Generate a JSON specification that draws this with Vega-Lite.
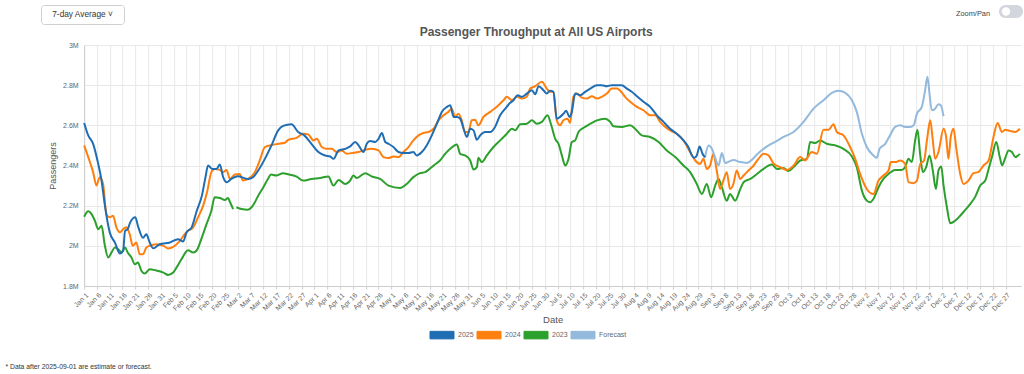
{
  "$schema": "https://vega.github.io/schema/vega-lite/v6.json",
  "padding": {"left": 5, "top": 4, "right": 4, "bottom": 0},
  "config": {
    "font": "Liberation Sans",
    "view": {"stroke": null}
  },
  "title": {"text": "* Data after 2025-09-01 are estimate or forecast.", "orient": "bottom", "anchor": "start", "frame": "bounds", "fontSize": 6.8, "fontWeight": "normal", "color": "#333", "offset": 23, "dx": -35},
  "spacing": 1,
  "center": true,
  "vconcat": [
    {
      "hconcat": [
        {"width": 83, "height": 19, "data": {"values": [{"label": "7-day Average      ˅"}]}, "mark": {"type": "text", "fontSize": 8.3, "color": "#333"}, "encoding": {"text": {"field": "label"}}, "view": {"stroke": "#cfcfcf", "cornerRadius": 3}},
        {"hconcat": [
          {"width": 34, "height": 18, "data": {"values": [{"label": "Zoom/Pan"}]}, "mark": {"type": "text", "fontSize": 7.4, "color": "#444"}, "encoding": {"text": {"field": "label"}}},
          {"width": 24, "height": 13, "data": {"values": [{"knob": "off"}]}, "mark": {"type": "point", "filled": true, "color": "white", "size": 70, "opacity": 1, "xOffset": -5}, "encoding": {}, "view": {"fill": "#d3d7dd", "stroke": null, "cornerRadius": 6.5}},
          {"width": 36, "height": 13, "data": {"values": []}, "mark": {"type": "point", "opacity": 0}, "encoding": {}}
        ], "spacing": 8}
      ],
      "spacing": 830
    },
    {
      "width": 937,
      "height": 241,
      "title": {"text": "Passenger Throughput at All US Airports", "fontSize": 12, "fontWeight": "bold", "color": "#555", "anchor": "middle", "frame": "bounds", "offset": 2},
      "data": {"values": [
        {"series":"2023","day":0,"passengers":2145000},{"series":"2023","day":1.6,"passengers":2172000},{"series":"2023","day":2.9,"passengers":2158000},{"series":"2023","day":4.2,"passengers":2125000},{"series":"2023","day":5.5,"passengers":2083000},{"series":"2023","day":6.8,"passengers":2100000},{"series":"2023","day":8,"passengers":2008000},{"series":"2023","day":9.4,"passengers":1942000},{"series":"2023","day":10.7,"passengers":1967000},{"series":"2023","day":12,"passengers":1992000},{"series":"2023","day":13.3,"passengers":1983000},{"series":"2023","day":14.6,"passengers":1967000},{"series":"2023","day":16,"passengers":1992000},{"series":"2023","day":17,"passengers":1967000},{"series":"2023","day":18.5,"passengers":1942000},{"series":"2023","day":19.8,"passengers":1908000},{"series":"2023","day":21,"passengers":1917000},{"series":"2023","day":22.4,"passengers":1875000},{"series":"2023","day":23.7,"passengers":1862000},{"series":"2023","day":25.6,"passengers":1883000},{"series":"2023","day":28,"passengers":1878000},{"series":"2023","day":31,"passengers":1867000},{"series":"2023","day":32.8,"passengers":1855000},{"series":"2023","day":34.8,"passengers":1867000},{"series":"2023","day":36.7,"passengers":1905000},{"series":"2023","day":38,"passengers":1933000},{"series":"2023","day":40.6,"passengers":1978000},{"series":"2023","day":42.6,"passengers":1967000},{"series":"2023","day":44,"passengers":1978000},{"series":"2023","day":46,"passengers":2042000},{"series":"2023","day":47.8,"passengers":2108000},{"series":"2023","day":49.7,"passengers":2175000},{"series":"2023","day":51,"passengers":2242000},{"series":"2023","day":53,"passengers":2238000},{"series":"2023","day":55,"passengers":2228000},{"series":"2023","day":56.2,"passengers":2238000},{"series":"2023","day":57,"passengers":2217000},{"series":"2023","day":58.2,"passengers":2183000},{"series":"2023","day":58.8,"passengers":null},{"series":"2023","day":59.5,"passengers":2192000},{"series":"2023","day":61.5,"passengers":2183000},{"series":"2023","day":64,"passengers":2180000},{"series":"2023","day":65.4,"passengers":2192000},{"series":"2023","day":66.7,"passengers":2217000},{"series":"2023","day":68,"passengers":2250000},{"series":"2023","day":70,"passengers":2292000},{"series":"2023","day":71.8,"passengers":2333000},{"series":"2023","day":73,"passengers":2355000},{"series":"2023","day":75,"passengers":2350000},{"series":"2023","day":77.7,"passengers":2362000},{"series":"2023","day":80,"passengers":2355000},{"series":"2023","day":83,"passengers":2345000},{"series":"2023","day":85.5,"passengers":2325000},{"series":"2023","day":88.8,"passengers":2333000},{"series":"2023","day":92.2,"passengers":2338000},{"series":"2023","day":95.4,"passengers":2345000},{"series":"2023","day":97.4,"passengers":2300000},{"series":"2023","day":99.4,"passengers":2328000},{"series":"2023","day":102,"passengers":2308000},{"series":"2023","day":103.9,"passengers":2325000},{"series":"2023","day":105.2,"passengers":2350000},{"series":"2023","day":106.5,"passengers":2338000},{"series":"2023","day":109.8,"passengers":2362000},{"series":"2023","day":112.4,"passengers":2345000},{"series":"2023","day":115.6,"passengers":2333000},{"series":"2023","day":118.9,"passengers":2300000},{"series":"2023","day":123.4,"passengers":2288000},{"series":"2023","day":126,"passengers":2308000},{"series":"2023","day":128.6,"passengers":2342000},{"series":"2023","day":131.2,"passengers":2362000},{"series":"2023","day":133.2,"passengers":2367000},{"series":"2023","day":134.5,"passengers":2378000},{"series":"2023","day":136.5,"passengers":2400000},{"series":"2023","day":139,"passengers":2425000},{"series":"2023","day":141,"passengers":2458000},{"series":"2023","day":143,"passengers":2483000},{"series":"2023","day":145.6,"passengers":2505000},{"series":"2023","day":146.9,"passengers":2458000},{"series":"2023","day":148.8,"passengers":2450000},{"series":"2023","day":150.8,"passengers":2425000},{"series":"2023","day":152.1,"passengers":2380000},{"series":"2023","day":153.4,"passengers":2392000},{"series":"2023","day":154,"passengers":2438000},{"series":"2023","day":155.3,"passengers":2417000},{"series":"2023","day":157.3,"passengers":2450000},{"series":"2023","day":159.9,"passengers":2492000},{"series":"2023","day":162.5,"passengers":2525000},{"series":"2023","day":165.1,"passengers":2558000},{"series":"2023","day":167.1,"passengers":2583000},{"series":"2023","day":168.4,"passengers":2575000},{"series":"2023","day":170.3,"passengers":2605000},{"series":"2023","day":172.9,"passengers":2608000},{"series":"2023","day":174.9,"passengers":2625000},{"series":"2023","day":176.8,"passengers":2608000},{"series":"2023","day":178.8,"passengers":2617000},{"series":"2023","day":181,"passengers":2650000},{"series":"2023","day":182.3,"passengers":2608000},{"series":"2023","day":184,"passengers":2533000},{"series":"2023","day":185.3,"passengers":2508000},{"series":"2023","day":186.6,"passengers":2450000},{"series":"2023","day":187.9,"passengers":2400000},{"series":"2023","day":189.2,"passengers":2433000},{"series":"2023","day":190.5,"passengers":2517000},{"series":"2023","day":191.8,"passengers":2525000},{"series":"2023","day":193.1,"passengers":2567000},{"series":"2023","day":195.1,"passengers":2588000},{"series":"2023","day":197.7,"passengers":2608000},{"series":"2023","day":200.3,"passengers":2625000},{"series":"2023","day":203.5,"passengers":2633000},{"series":"2023","day":205.5,"passengers":2617000},{"series":"2023","day":206.8,"passengers":2595000},{"series":"2023","day":210,"passengers":2592000},{"series":"2023","day":213.3,"passengers":2600000},{"series":"2023","day":215.2,"passengers":2583000},{"series":"2023","day":217.8,"passengers":2550000},{"series":"2023","day":221.1,"passengers":2542000},{"series":"2023","day":224.4,"passengers":2517000},{"series":"2023","day":227.6,"passengers":2475000},{"series":"2023","day":230.9,"passengers":2442000},{"series":"2023","day":234.1,"passengers":2400000},{"series":"2023","day":236.7,"passengers":2367000},{"series":"2023","day":239.3,"passengers":2308000},{"series":"2023","day":241.3,"passengers":2258000},{"series":"2023","day":243.2,"passengers":2308000},{"series":"2023","day":244.9,"passengers":2242000},{"series":"2023","day":246.5,"passengers":2300000},{"series":"2023","day":247.8,"passengers":2333000},{"series":"2023","day":249.1,"passengers":2292000},{"series":"2023","day":251,"passengers":2225000},{"series":"2023","day":252.3,"passengers":2258000},{"series":"2023","day":254.3,"passengers":2225000},{"series":"2023","day":256.3,"passengers":2283000},{"series":"2023","day":257.6,"passengers":2317000},{"series":"2023","day":260.2,"passengers":2333000},{"series":"2023","day":262.8,"passengers":2358000},{"series":"2023","day":265.4,"passengers":2383000},{"series":"2023","day":268.6,"passengers":2405000},{"series":"2023","day":270.6,"passengers":2383000},{"series":"2023","day":273.2,"passengers":2388000},{"series":"2023","day":275.1,"passengers":2372000},{"series":"2023","day":277.1,"passengers":2392000},{"series":"2023","day":279.7,"passengers":2425000},{"series":"2023","day":282.3,"passengers":2433000},{"series":"2023","day":283.6,"passengers":2517000},{"series":"2023","day":285.5,"passengers":2512000},{"series":"2023","day":287.5,"passengers":2525000},{"series":"2023","day":290.1,"passengers":2508000},{"series":"2023","day":293.4,"passengers":2500000},{"series":"2023","day":296.6,"passengers":2483000},{"series":"2023","day":299.9,"passengers":2445000},{"series":"2023","day":301.8,"passengers":2392000},{"series":"2023","day":303.8,"passengers":2275000},{"series":"2023","day":305.7,"passengers":2225000},{"series":"2023","day":307,"passengers":2217000},{"series":"2023","day":308.3,"passengers":2233000},{"series":"2023","day":310.3,"passengers":2292000},{"series":"2023","day":312.2,"passengers":2333000},{"series":"2023","day":314.2,"passengers":2358000},{"series":"2023","day":316.8,"passengers":2378000},{"series":"2023","day":319.4,"passengers":2378000},{"series":"2023","day":320.7,"passengers":2392000},{"series":"2023","day":322,"passengers":2433000},{"series":"2023","day":323.3,"passengers":2417000},{"series":"2023","day":324.6,"passengers":2525000},{"series":"2023","day":325.5,"passengers":2578000},{"series":"2023","day":326.6,"passengers":2450000},{"series":"2023","day":327.6,"passengers":2367000},{"series":"2023","day":328.9,"passengers":2392000},{"series":"2023","day":330.2,"passengers":2450000},{"series":"2023","day":331.5,"passengers":2375000},{"series":"2023","day":332.7,"passengers":2283000},{"series":"2023","day":333.7,"passengers":2375000},{"series":"2023","day":334.8,"passengers":2395000},{"series":"2023","day":335.7,"passengers":2300000},{"series":"2023","day":337,"passengers":2192000},{"series":"2023","day":338.3,"passengers":2112000},{"series":"2023","day":340.2,"passengers":2125000},{"series":"2023","day":342.2,"passengers":2150000},{"series":"2023","day":344.1,"passengers":2178000},{"series":"2023","day":346.1,"passengers":2208000},{"series":"2023","day":348.1,"passengers":2245000},{"series":"2023","day":350,"passengers":2300000},{"series":"2023","day":352,"passengers":2325000},{"series":"2023","day":353.3,"passengers":2383000},{"series":"2023","day":354.6,"passengers":2442000},{"series":"2023","day":356.3,"passengers":2517000},{"series":"2023","day":357.6,"passengers":2445000},{"series":"2023","day":358.6,"passengers":2400000},{"series":"2023","day":359.8,"passengers":2438000},{"series":"2023","day":361.1,"passengers":2475000},{"series":"2023","day":362.4,"passengers":2467000},{"series":"2023","day":363.7,"passengers":2442000},{"series":"2023","day":365.5,"passengers":2458000},
        {"series":"2024","day":0,"passengers":2500000},{"series":"2024","day":1.6,"passengers":2442000},{"series":"2024","day":3.5,"passengers":2367000},{"series":"2024","day":4.8,"passengers":2300000},{"series":"2024","day":6.1,"passengers":2342000},{"series":"2024","day":7.4,"passengers":2308000},{"series":"2024","day":8.7,"passengers":2158000},{"series":"2024","day":10,"passengers":2142000},{"series":"2024","day":11.3,"passengers":2150000},{"series":"2024","day":12.6,"passengers":2092000},{"series":"2024","day":14,"passengers":2067000},{"series":"2024","day":15.2,"passengers":2083000},{"series":"2024","day":16.5,"passengers":2092000},{"series":"2024","day":17.8,"passengers":2058000},{"series":"2024","day":19,"passengers":2000000},{"series":"2024","day":20.4,"passengers":2017000},{"series":"2024","day":21.7,"passengers":1958000},{"series":"2024","day":23,"passengers":1958000},{"series":"2024","day":24.3,"passengers":1992000},{"series":"2024","day":25.6,"passengers":2000000},{"series":"2024","day":28,"passengers":2008000},{"series":"2024","day":31,"passengers":2000000},{"series":"2024","day":32.8,"passengers":1987000},{"series":"2024","day":34.8,"passengers":1995000},{"series":"2024","day":37.4,"passengers":2025000},{"series":"2024","day":39.3,"passengers":2058000},{"series":"2024","day":40.6,"passengers":2075000},{"series":"2024","day":42.6,"passengers":2092000},{"series":"2024","day":44.5,"passengers":2142000},{"series":"2024","day":46.5,"passengers":2200000},{"series":"2024","day":48,"passengers":2267000},{"series":"2024","day":49.7,"passengers":2367000},{"series":"2024","day":51,"passengers":2383000},{"series":"2024","day":53,"passengers":2378000},{"series":"2024","day":54.3,"passengers":2367000},{"series":"2024","day":55.6,"passengers":2378000},{"series":"2024","day":57,"passengers":2333000},{"series":"2024","day":58.9,"passengers":2355000},{"series":"2024","day":60.8,"passengers":2358000},{"series":"2024","day":62,"passengers":2325000},{"series":"2024","day":64,"passengers":2333000},{"series":"2024","day":66.7,"passengers":2367000},{"series":"2024","day":68.6,"passengers":2425000},{"series":"2024","day":70.6,"passengers":2492000},{"series":"2024","day":72.5,"passengers":2500000},{"series":"2024","day":75.8,"passengers":2508000},{"series":"2024","day":78.4,"passengers":2513000},{"series":"2024","day":79.7,"passengers":2528000},{"series":"2024","day":83,"passengers":2538000},{"series":"2024","day":85.5,"passengers":2558000},{"series":"2024","day":87.5,"passengers":2555000},{"series":"2024","day":89.6,"passengers":2525000},{"series":"2024","day":90.9,"passengers":2533000},{"series":"2024","day":92.8,"passengers":2492000},{"series":"2024","day":94.8,"passengers":2483000},{"series":"2024","day":96.7,"passengers":2483000},{"series":"2024","day":98.7,"passengers":2467000},{"series":"2024","day":100.6,"passengers":2475000},{"series":"2024","day":102.6,"passengers":2458000},{"series":"2024","day":104.6,"passengers":2462000},{"series":"2024","day":107.2,"passengers":2467000},{"series":"2024","day":109.8,"passengers":2478000},{"series":"2024","day":112.4,"passengers":2483000},{"series":"2024","day":115,"passengers":2475000},{"series":"2024","day":116.9,"passengers":2442000},{"series":"2024","day":118.9,"passengers":2437000},{"series":"2024","day":120.8,"passengers":2445000},{"series":"2024","day":122.8,"passengers":2442000},{"series":"2024","day":124.7,"passengers":2467000},{"series":"2024","day":126.7,"passengers":2492000},{"series":"2024","day":128.6,"passengers":2525000},{"series":"2024","day":130.6,"passengers":2550000},{"series":"2024","day":132.5,"passengers":2562000},{"series":"2024","day":134.5,"passengers":2567000},{"series":"2024","day":136.5,"passengers":2583000},{"series":"2024","day":138.4,"passengers":2625000},{"series":"2024","day":140.4,"passengers":2650000},{"series":"2024","day":142.3,"passengers":2667000},{"series":"2024","day":143.6,"passengers":2683000},{"series":"2024","day":144.9,"passengers":2642000},{"series":"2024","day":146.2,"passengers":2658000},{"series":"2024","day":147.5,"passengers":2625000},{"series":"2024","day":148.8,"passengers":2567000},{"series":"2024","day":150.1,"passengers":2567000},{"series":"2024","day":151.4,"passengers":2625000},{"series":"2024","day":152.7,"passengers":2628000},{"series":"2024","day":154,"passengers":2600000},{"series":"2024","day":156,"passengers":2642000},{"series":"2024","day":158.6,"passengers":2667000},{"series":"2024","day":161.2,"passengers":2692000},{"series":"2024","day":163.8,"passengers":2725000},{"series":"2024","day":165.1,"passengers":2742000},{"series":"2024","day":167.1,"passengers":2725000},{"series":"2024","day":169,"passengers":2742000},{"series":"2024","day":171,"passengers":2733000},{"series":"2024","day":172.9,"passengers":2742000},{"series":"2024","day":174.2,"passengers":2783000},{"series":"2024","day":176.2,"passengers":2795000},{"series":"2024","day":178.8,"passengers":2817000},{"series":"2024","day":180.7,"passengers":2783000},{"series":"2024","day":182,"passengers":2767000},{"series":"2024","day":183.3,"passengers":2767000},{"series":"2024","day":184.6,"passengers":2625000},{"series":"2024","day":185.9,"passengers":2600000},{"series":"2024","day":187.2,"passengers":2625000},{"series":"2024","day":188.8,"passengers":2633000},{"series":"2024","day":189.8,"passengers":2612000},{"series":"2024","day":191.1,"passengers":2742000},{"series":"2024","day":192.5,"passengers":2758000},{"series":"2024","day":194.4,"passengers":2738000},{"series":"2024","day":196.4,"passengers":2733000},{"series":"2024","day":198.3,"passengers":2745000},{"series":"2024","day":200.3,"passengers":2733000},{"series":"2024","day":202.2,"passengers":2742000},{"series":"2024","day":204.2,"passengers":2758000},{"series":"2024","day":206.1,"passengers":2783000},{"series":"2024","day":208.1,"passengers":2783000},{"series":"2024","day":209.4,"passengers":2772000},{"series":"2024","day":211.3,"passengers":2742000},{"series":"2024","day":213.3,"passengers":2717000},{"series":"2024","day":215.9,"passengers":2692000},{"series":"2024","day":218.5,"passengers":2675000},{"series":"2024","day":221.1,"passengers":2650000},{"series":"2024","day":223.1,"passengers":2650000},{"series":"2024","day":225,"passengers":2617000},{"series":"2024","day":227,"passengers":2592000},{"series":"2024","day":228.9,"passengers":2575000},{"series":"2024","day":231.5,"passengers":2558000},{"series":"2024","day":234.1,"passengers":2525000},{"series":"2024","day":236.7,"passengers":2467000},{"series":"2024","day":238.7,"passengers":2425000},{"series":"2024","day":240.6,"passengers":2408000},{"series":"2024","day":241.9,"passengers":2433000},{"series":"2024","day":243.2,"passengers":2383000},{"series":"2024","day":244.5,"passengers":2400000},{"series":"2024","day":245.8,"passengers":2458000},{"series":"2024","day":247.1,"passengers":2375000},{"series":"2024","day":248.4,"passengers":2283000},{"series":"2024","day":249.7,"passengers":2325000},{"series":"2024","day":251,"passengers":2367000},{"series":"2024","day":252.3,"passengers":2283000},{"series":"2024","day":253.6,"passengers":2308000},{"series":"2024","day":254.9,"passengers":2375000},{"series":"2024","day":256.3,"passengers":2333000},{"series":"2024","day":257.6,"passengers":2350000},{"series":"2024","day":259.5,"passengers":2375000},{"series":"2024","day":261.5,"passengers":2400000},{"series":"2024","day":263.4,"passengers":2433000},{"series":"2024","day":265.4,"passengers":2458000},{"series":"2024","day":267.3,"passengers":2450000},{"series":"2024","day":269.3,"passengers":2410000},{"series":"2024","day":271.9,"passengers":2392000},{"series":"2024","day":274.5,"passengers":2378000},{"series":"2024","day":277.1,"passengers":2400000},{"series":"2024","day":279.7,"passengers":2442000},{"series":"2024","day":281.6,"passengers":2425000},{"series":"2024","day":284.2,"passengers":2467000},{"series":"2024","day":286.2,"passengers":2458000},{"series":"2024","day":288.8,"passengers":2578000},{"series":"2024","day":290.8,"passengers":2578000},{"series":"2024","day":292.7,"passengers":2605000},{"series":"2024","day":294,"passengers":2567000},{"series":"2024","day":296.6,"passengers":2550000},{"series":"2024","day":299.2,"passengers":2492000},{"series":"2024","day":301.2,"passengers":2433000},{"series":"2024","day":303.1,"passengers":2358000},{"series":"2024","day":305.7,"passengers":2283000},{"series":"2024","day":308.3,"passengers":2258000},{"series":"2024","day":310.3,"passengers":2325000},{"series":"2024","day":312.2,"passengers":2350000},{"series":"2024","day":314.2,"passengers":2375000},{"series":"2024","day":315.1,"passengers":2417000},{"series":"2024","day":316.8,"passengers":2417000},{"series":"2024","day":318.8,"passengers":2425000},{"series":"2024","day":320.7,"passengers":2408000},{"series":"2024","day":322,"passengers":2317000},{"series":"2024","day":324,"passengers":2312000},{"series":"2024","day":325.3,"passengers":2325000},{"series":"2024","day":326.6,"passengers":2408000},{"series":"2024","day":328.1,"passengers":2425000},{"series":"2024","day":329.2,"passengers":2525000},{"series":"2024","day":330.5,"passengers":2625000},{"series":"2024","day":331.5,"passengers":2525000},{"series":"2024","day":332.4,"passengers":2433000},{"series":"2024","day":333.7,"passengers":2467000},{"series":"2024","day":335.7,"passengers":2583000},{"series":"2024","day":336.7,"passengers":2542000},{"series":"2024","day":337.6,"passengers":2433000},{"series":"2024","day":338.5,"passengers":2542000},{"series":"2024","day":339.6,"passengers":2583000},{"series":"2024","day":340.6,"passengers":2492000},{"series":"2024","day":342.2,"passengers":2358000},{"series":"2024","day":343.5,"passengers":2308000},{"series":"2024","day":345.4,"passengers":2325000},{"series":"2024","day":347.4,"passengers":2362000},{"series":"2024","day":349.3,"passengers":2367000},{"series":"2024","day":351.3,"passengers":2400000},{"series":"2024","day":353.3,"passengers":2425000},{"series":"2024","day":355.2,"passengers":2542000},{"series":"2024","day":356.8,"passengers":2612000},{"series":"2024","day":358.5,"passengers":2567000},{"series":"2024","day":359.8,"passengers":2578000},{"series":"2024","day":361.7,"passengers":2572000},{"series":"2024","day":363.7,"passengers":2567000},{"series":"2024","day":365.5,"passengers":2583000},
        {"series":"Forecast","day":242.5,"passengers":2440000},{"series":"Forecast","day":243.9,"passengers":2500000},{"series":"Forecast","day":245.2,"passengers":2483000},{"series":"Forecast","day":246.5,"passengers":2438000},{"series":"Forecast","day":247.8,"passengers":2400000},{"series":"Forecast","day":249.1,"passengers":2462000},{"series":"Forecast","day":250.4,"passengers":2412000},{"series":"Forecast","day":252.3,"passengers":2422000},{"series":"Forecast","day":253.6,"passengers":2428000},{"series":"Forecast","day":256.3,"passengers":2417000},{"series":"Forecast","day":258.9,"passengers":2413000},{"series":"Forecast","day":260.8,"passengers":2428000},{"series":"Forecast","day":262.8,"passengers":2455000},{"series":"Forecast","day":265.4,"passengers":2483000},{"series":"Forecast","day":268,"passengers":2505000},{"series":"Forecast","day":270.6,"passengers":2522000},{"series":"Forecast","day":273.2,"passengers":2542000},{"series":"Forecast","day":277.1,"passengers":2567000},{"series":"Forecast","day":281,"passengers":2617000},{"series":"Forecast","day":284.9,"passengers":2683000},{"series":"Forecast","day":288.8,"passengers":2725000},{"series":"Forecast","day":292.1,"passengers":2762000},{"series":"Forecast","day":294.7,"passengers":2772000},{"series":"Forecast","day":297.3,"passengers":2762000},{"series":"Forecast","day":299.9,"passengers":2725000},{"series":"Forecast","day":301.8,"passengers":2667000},{"series":"Forecast","day":303.8,"passengers":2558000},{"series":"Forecast","day":305.7,"passengers":2492000},{"series":"Forecast","day":308.3,"passengers":2450000},{"series":"Forecast","day":309.6,"passengers":2438000},{"series":"Forecast","day":310.7,"passengers":2483000},{"series":"Forecast","day":312.9,"passengers":2508000},{"series":"Forecast","day":314.8,"passengers":2550000},{"series":"Forecast","day":316.8,"passengers":2592000},{"series":"Forecast","day":318.8,"passengers":2600000},{"series":"Forecast","day":320.7,"passengers":2592000},{"series":"Forecast","day":322.7,"passengers":2592000},{"series":"Forecast","day":324,"passengers":2600000},{"series":"Forecast","day":325.3,"passengers":2658000},{"series":"Forecast","day":327.2,"passengers":2692000},{"series":"Forecast","day":328.5,"passengers":2775000},{"series":"Forecast","day":329.4,"passengers":2842000},{"series":"Forecast","day":330.2,"passengers":2758000},{"series":"Forecast","day":331.1,"passengers":2675000},{"series":"Forecast","day":332.4,"passengers":2683000},{"series":"Forecast","day":333.7,"passengers":2705000},{"series":"Forecast","day":334.6,"passengers":2700000},{"series":"Forecast","day":335.7,"passengers":2645000},
        {"series":"2025","day":0,"passengers":2612000},{"series":"2025","day":1.6,"passengers":2550000},{"series":"2025","day":3.5,"passengers":2508000},{"series":"2025","day":5.5,"passengers":2408000},{"series":"2025","day":6.8,"passengers":2325000},{"series":"2025","day":8,"passengers":2210000},{"series":"2025","day":10,"passengers":2067000},{"series":"2025","day":12,"passengers":2017000},{"series":"2025","day":14,"passengers":1962000},{"series":"2025","day":15.2,"passengers":1975000},{"series":"2025","day":16,"passengers":2075000},{"series":"2025","day":17,"passengers":2083000},{"series":"2025","day":18,"passengers":2117000},{"series":"2025","day":20,"passengers":2142000},{"series":"2025","day":21,"passengers":2100000},{"series":"2025","day":23,"passengers":2040000},{"series":"2025","day":24.3,"passengers":2058000},{"series":"2025","day":25.6,"passengers":2017000},{"series":"2025","day":27,"passengers":1988000},{"series":"2025","day":29.5,"passengers":2008000},{"series":"2025","day":33.5,"passengers":2017000},{"series":"2025","day":36.7,"passengers":2033000},{"series":"2025","day":38.7,"passengers":2022000},{"series":"2025","day":40,"passengers":2067000},{"series":"2025","day":42,"passengers":2092000},{"series":"2025","day":44,"passengers":2175000},{"series":"2025","day":46,"passengers":2250000},{"series":"2025","day":47.4,"passengers":2342000},{"series":"2025","day":48.4,"passengers":2400000},{"series":"2025","day":50,"passengers":2383000},{"series":"2025","day":51.7,"passengers":2383000},{"series":"2025","day":53,"passengers":2405000},{"series":"2025","day":54.3,"passengers":2342000},{"series":"2025","day":55.6,"passengers":2317000},{"series":"2025","day":57.5,"passengers":2333000},{"series":"2025","day":60,"passengers":2347000},{"series":"2025","day":64,"passengers":2333000},{"series":"2025","day":66,"passengers":2342000},{"series":"2025","day":68,"passengers":2375000},{"series":"2025","day":70.6,"passengers":2433000},{"series":"2025","day":73,"passengers":2495000},{"series":"2025","day":75.8,"passengers":2575000},{"series":"2025","day":77.7,"passengers":2597000},{"series":"2025","day":81,"passengers":2605000},{"series":"2025","day":83.6,"passengers":2567000},{"series":"2025","day":86,"passengers":2550000},{"series":"2025","day":88.8,"passengers":2508000},{"series":"2025","day":91.5,"passengers":2467000},{"series":"2025","day":94.1,"passengers":2450000},{"series":"2025","day":96.1,"passengers":2445000},{"series":"2025","day":97.4,"passengers":2433000},{"series":"2025","day":99.4,"passengers":2475000},{"series":"2025","day":102,"passengers":2483000},{"series":"2025","day":103.9,"passengers":2495000},{"series":"2025","day":105.9,"passengers":2517000},{"series":"2025","day":107.2,"passengers":2500000},{"series":"2025","day":109.1,"passengers":2467000},{"series":"2025","day":110.4,"passengers":2508000},{"series":"2025","day":111.7,"passengers":2522000},{"series":"2025","day":113.7,"passengers":2517000},{"series":"2025","day":115,"passengers":2533000},{"series":"2025","day":116.3,"passengers":2562000},{"series":"2025","day":117.6,"passengers":2517000},{"series":"2025","day":118.9,"passengers":2508000},{"series":"2025","day":120.8,"passengers":2492000},{"series":"2025","day":122.8,"passengers":2467000},{"series":"2025","day":124.7,"passengers":2462000},{"series":"2025","day":126.7,"passengers":2462000},{"series":"2025","day":128.6,"passengers":2467000},{"series":"2025","day":129.9,"passengers":2450000},{"series":"2025","day":131.9,"passengers":2467000},{"series":"2025","day":133.8,"passengers":2500000},{"series":"2025","day":135.8,"passengers":2550000},{"series":"2025","day":137.8,"passengers":2608000},{"series":"2025","day":139.7,"passengers":2667000},{"series":"2025","day":141.7,"passengers":2692000},{"series":"2025","day":143,"passengers":2700000},{"series":"2025","day":144.3,"passengers":2642000},{"series":"2025","day":145.6,"passengers":2642000},{"series":"2025","day":146.9,"passengers":2633000},{"series":"2025","day":148.2,"passengers":2583000},{"series":"2025","day":149.5,"passengers":2542000},{"series":"2025","day":150.8,"passengers":2583000},{"series":"2025","day":152.1,"passengers":2575000},{"series":"2025","day":153.4,"passengers":2528000},{"series":"2025","day":154.7,"passengers":2550000},{"series":"2025","day":156.6,"passengers":2567000},{"series":"2025","day":158.6,"passengers":2567000},{"series":"2025","day":160.5,"passengers":2592000},{"series":"2025","day":162.5,"passengers":2650000},{"series":"2025","day":164.5,"passengers":2683000},{"series":"2025","day":166.4,"passengers":2712000},{"series":"2025","day":167.7,"passengers":2725000},{"series":"2025","day":169.3,"passengers":2750000},{"series":"2025","day":171,"passengers":2742000},{"series":"2025","day":172.9,"passengers":2758000},{"series":"2025","day":174.9,"passengers":2775000},{"series":"2025","day":176.2,"passengers":2755000},{"series":"2025","day":177.5,"passengers":2795000},{"series":"2025","day":179.4,"passengers":2775000},{"series":"2025","day":180.7,"passengers":2758000},{"series":"2025","day":182,"passengers":2772000},{"series":"2025","day":183.3,"passengers":2767000},{"series":"2025","day":184.6,"passengers":2633000},{"series":"2025","day":185.9,"passengers":2642000},{"series":"2025","day":187.2,"passengers":2658000},{"series":"2025","day":188.3,"passengers":2672000},{"series":"2025","day":189.6,"passengers":2642000},{"series":"2025","day":190.5,"passengers":2667000},{"series":"2025","day":191.8,"passengers":2758000},{"series":"2025","day":193.8,"passengers":2750000},{"series":"2025","day":195.7,"passengers":2767000},{"series":"2025","day":197.7,"passengers":2783000},{"series":"2025","day":200.3,"passengers":2800000},{"series":"2025","day":202.2,"passengers":2800000},{"series":"2025","day":204.2,"passengers":2795000},{"series":"2025","day":206.1,"passengers":2800000},{"series":"2025","day":208.1,"passengers":2800000},{"series":"2025","day":210,"passengers":2800000},{"series":"2025","day":212,"passengers":2783000},{"series":"2025","day":213.9,"passengers":2767000},{"series":"2025","day":215.9,"passengers":2745000},{"series":"2025","day":218.5,"passengers":2717000},{"series":"2025","day":221.1,"passengers":2692000},{"series":"2025","day":223.7,"passengers":2650000},{"series":"2025","day":226.3,"passengers":2617000},{"series":"2025","day":228.9,"passengers":2583000},{"series":"2025","day":231.5,"passengers":2558000},{"series":"2025","day":234.1,"passengers":2525000},{"series":"2025","day":236,"passengers":2492000},{"series":"2025","day":237.4,"passengers":2450000},{"series":"2025","day":238.3,"passengers":2438000},{"series":"2025","day":239.3,"passengers":2450000},{"series":"2025","day":240.4,"passengers":2495000},{"series":"2025","day":241.5,"passengers":2460000},{"series":"2025","day":242.5,"passengers":2440000}
      ]},
      "mark": {"type": "line", "strokeWidth": 2, "interpolate": "monotone", "invalid": "break-paths-show-domains"},
      "encoding": {
        "x": {
          "field": "day", "type": "quantitative",
          "scale": {"domain": [0, 366], "nice": false, "zero": false},
          "axis": {
            "title": "Date", "titleFontSize": 9.5, "titleFontWeight": "normal", "titleColor": "#555", "titlePadding": 2,
            "values": [0,5,10,15,20,25,30,35,40,45,50,55,60,65,70,75,80,85,90,95,100,105,110,115,120,125,130,135,140,145,150,155,160,165,170,175,180,185,190,195,200,205,210,215,220,225,230,235,240,245,250,255,260,265,270,275,280,285,290,295,300,305,310,315,320,325,330,335,340,345,350,355,360],
            "labelExpr": "timeFormat(datetime(2025, 0, 1 + datum.value), '%b %-d')",
            "labelAngle": -45, "labelFontSize": 7, "labelColor": "#666", "labelOverlap": false, "labelFlush": false, "labelBound": false, "labelPadding": 2,
            "grid": true, "gridColor": "#e8e8e8", "domainColor": "#ccc", "tickColor": "#ccc", "tickSize": 3
          }
        },
        "y": {
          "field": "passengers", "type": "quantitative",
          "scale": {"domain": [1800000, 3000000], "nice": false, "zero": false},
          "axis": {
            "title": "Passengers", "titleFontSize": 9, "titleFontWeight": "normal", "titleColor": "#555", "titlePadding": 5,
            "values": [1800000, 2000000, 2200000, 2400000, 2600000, 2800000, 3000000],
            "format": "~s", "labelFontSize": 7, "labelColor": "#666", "labelPadding": 6, "ticks": false,
            "grid": true, "gridColor": "#e8e8e8", "domainColor": "#ccc"
          }
        },
        "color": {
          "field": "series", "type": "nominal",
          "scale": {"domain": ["2025", "2024", "2023", "Forecast"], "range": ["#1f6db3", "#ff7f0e", "#2ca02c", "#93b9dd"]},
          "legend": {
            "title": null, "orient": "none", "legendX": 391, "legendY": 320, "direction": "horizontal",
            "symbolType": "M-1.3,-0.41H1.3V0.41H-1.3Z", "symbolSize": 340, "symbolStrokeWidth": 1,
            "labelFontSize": 7, "labelColor": "#666", "labelOffset": 6, "columnPadding": 1,
            "encode": {"symbols": {"update": {"fill": {"scale": "color", "field": "value"}, "fillOpacity": {"value": 1}}}}
          }
        }
      }
    }
  ]
}
